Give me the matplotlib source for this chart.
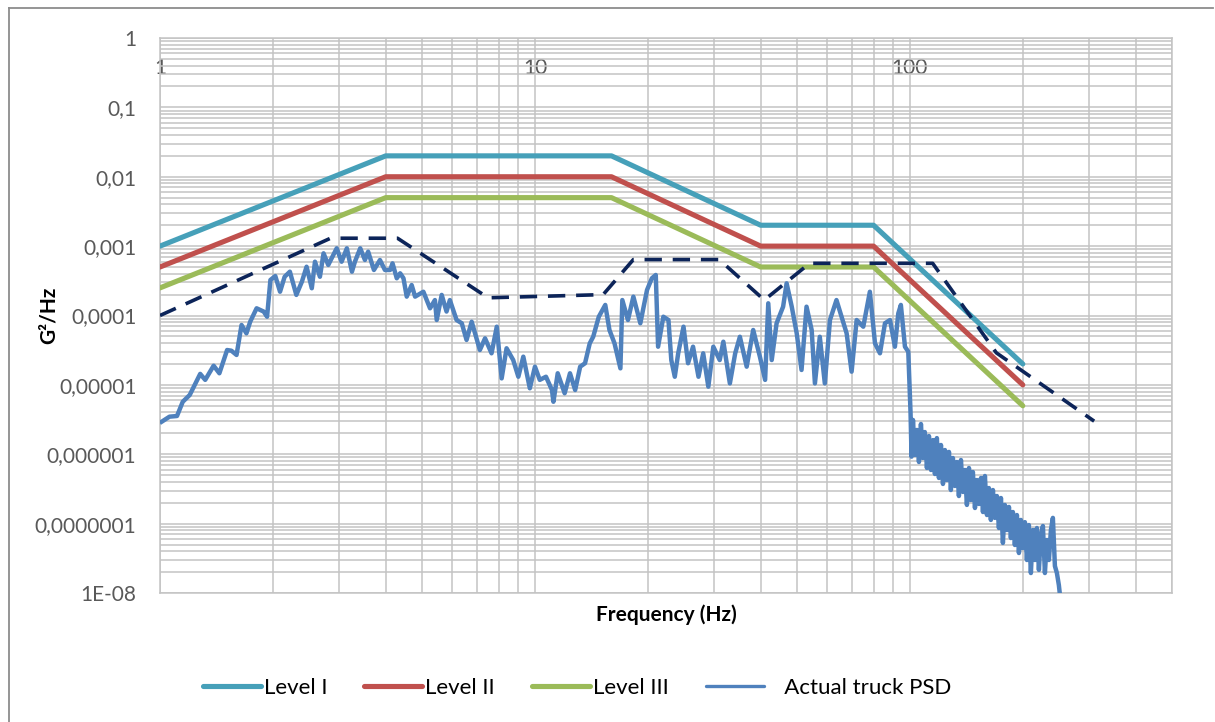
import numpy as np
import matplotlib
matplotlib.use("Agg")
import matplotlib.pyplot as plt
from matplotlib.ticker import LogLocator, NullFormatter, FixedLocator, FixedFormatter
from matplotlib.lines import Line2D

plt.rcParams['font.family'] = ['Lato', 'DejaVu Sans']

# ---------------- data ----------------
level_freq = [1, 4, 16, 40, 80, 200]
level_1 = [0.001, 0.02, 0.02, 0.002, 0.002, 0.00002]
level_2 = [0.0005, 0.01, 0.01, 0.001, 0.001, 0.00001]
level_3 = [0.00025, 0.005, 0.005, 0.0005, 0.0005, 0.000005]

dash_freq = [1, 2.85, 4.3, 7.5, 15.2, 18.3, 31, 40.9, 54, 115, 170, 310]
dash_psd = [1.0e-4, 1.3e-3, 1.3e-3, 1.8e-4, 2.0e-4, 6.4e-4, 6.4e-4, 1.67e-4,
            5.65e-4, 5.65e-4, 2.9e-5, 3.0e-6]

psd_freq_a = [1.01, 1.06, 1.11, 1.15, 1.20, 1.28, 1.32, 1.39, 1.44, 1.51, 1.55, 1.60,
              1.65, 1.70, 1.74, 1.81, 1.89, 1.93, 1.97, 2.03, 2.09, 2.15, 2.22, 2.31,
              2.39, 2.46, 2.54, 2.59, 2.67, 2.73, 2.81, 2.87, 2.96, 3.05, 3.15, 3.25,
              3.31, 3.42, 3.52, 3.59, 3.72, 3.86, 3.98, 4.11, 4.17, 4.28]
psd_val_a = [2.94e-6, 3.48e-6, 3.56e-6, 5.71e-6, 7.14e-6, 1.44e-5, 1.18e-5, 1.89e-5,
             1.47e-5, 3.18e-5, 3.11e-5, 2.70e-5, 7.30e-5, 5.53e-5, 8.14e-5, 1.27e-4,
             1.14e-4, 9.6e-5, 3.25e-4, 3.71e-4, 2.20e-4, 3.62e-4, 4.28e-4, 1.98e-4,
             3.07e-4, 5.05e-4, 2.47e-4, 5.96e-4, 3.62e-4, 7.88e-4, 5.35e-4, 6.68e-4,
             9.31e-4, 5.96e-4, 9.31e-4, 4.28e-4, 5.96e-4, 9.31e-4, 6.31e-4, 8.32e-4,
             4.53e-4, 6.31e-4, 4.53e-4, 4.53e-4, 5.65e-4, 3.44e-4]

psd_freq_b = [4.37, 4.46, 4.55, 4.69, 4.79, 5.04, 5.25, 5.41, 5.47, 5.64, 5.81, 5.93,
              6.18, 6.38, 6.57, 6.78, 7.13, 7.36, 7.66, 7.91, 8.15, 8.40, 8.75, 9.03,
              9.31, 9.69, 10.0, 10.3, 10.7, 11.1, 11.2, 11.5, 12.0, 12.4, 12.8, 13.2,
              13.6, 14.0, 14.3, 14.8, 15.4, 15.8, 16.3, 16.9, 17.1, 17.7, 18.3, 19.1,
              19.9, 20.5, 21.0, 21.3]
psd_val_b = [4.06e-4, 3.44e-4, 1.87e-4, 2.75e-4, 1.87e-4, 2.20e-4, 1.27e-4, 1.67e-4,
             8.61e-5, 1.98e-4, 1.14e-4, 1.67e-4, 8.61e-5, 7.73e-5, 4.44e-5, 8.14e-5,
             3.18e-5, 4.69e-5, 2.85e-5, 6.90e-5, 1.24e-5, 3.37e-5, 2.28e-5, 1.31e-5,
             2.55e-5, 8.93e-6, 1.83e-5, 1.18e-5, 1.31e-5, 8.43e-6, 5.71e-6, 1.47e-5,
             7.57e-6, 1.47e-5, 8.43e-6, 1.83e-5, 2.05e-5, 3.97e-5, 4.94e-5, 9.6e-5,
             1.42e-4, 6.18e-5, 3.97e-5, 1.73e-5, 1.67e-4, 8.61e-5, 1.87e-4, 7.73e-5,
             2.33e-4, 3.44e-4, 3.84e-4, 3.55e-5]

psd_freq_c = [22.0, 22.7, 23.1, 23.6, 24.1, 24.9, 25.6, 26.4, 27.3, 28.1, 29.0, 29.9,
              31.1, 31.8, 33.1, 34.2, 35.2, 36.7, 38.2, 39.8, 41.1, 41.9, 42.8, 44.1,
              45.9, 46.9, 48.4, 49.9, 51.4, 53.0, 54.7, 55.8, 57.5, 59.3, 61.2, 63.7,
              65.7, 67.8, 69.9, 72.1, 75.1, 78.2, 80.7, 83.2, 85.8, 88.5, 91.2, 93.1,
              94.6, 97.0, 99.0, 100.4, 101.0]
psd_val_c = [9.6e-5, 8.61e-5, 2.28e-5, 1.31e-5, 2.85e-5, 6.90e-5, 2.05e-5, 3.55e-5,
             1.31e-5, 2.85e-5, 9.42e-6, 3.55e-5, 2.28e-5, 4.19e-5, 1.05e-5, 2.85e-5,
             4.94e-5, 1.83e-5, 6.18e-5, 2.55e-5, 1.18e-5, 1.50e-4, 2.28e-5, 7.73e-5,
             1.34e-4, 2.91e-4, 1.34e-4, 5.53e-5, 1.64e-5, 1.34e-4, 6.18e-5, 1.05e-5,
             4.94e-5, 1.05e-5, 8.61e-5, 1.67e-4, 9.6e-5, 5.53e-5, 1.55e-5, 8.61e-5,
             6.90e-5, 2.20e-4, 3.97e-5, 2.85e-5, 7.73e-5, 8.61e-5, 3.55e-5, 1.07e-4,
             1.42e-4, 3.55e-5, 3.01e-5, 3.89e-6, 9.23e-7]

psd_freq_d = [101.9, 103.1, 104.4, 105.7, 107.0, 108.3, 109.6, 111.0, 112.4, 113.8,
              115.2, 116.6, 118.0, 119.5, 121.0, 122.5, 124.0, 125.5, 127.1, 128.6,
              130.2, 131.8, 133.4, 135.1, 136.8, 138.5, 140.2, 141.9, 143.7, 145.4,
              147.2, 149.1, 150.9, 152.8, 154.7, 156.6, 158.5, 160.5, 162.4, 164.4,
              166.5, 168.5, 170.6, 172.7, 174.9, 177.0, 179.2, 181.4, 183.7, 185.9,
              188.2, 190.5, 192.9, 195.3, 197.7, 200.1, 202.6, 205.1, 207.6, 210.2,
              212.8, 215.4, 218.1, 220.8, 223.5, 226.3, 229.1, 231.9, 234.8, 237.7,
              240.6, 243.6, 246.6, 249.6, 251.2]
psd_val_d = [3.12e-6, 9.76e-7, 2.24e-6, 7.73e-7, 2.73e-6, 8.83e-7, 2.09e-6, 6.34e-7,
             1.83e-6, 5.93e-7, 1.60e-6, 5.19e-7, 1.71e-6, 4.55e-7, 1.36e-6, 3.73e-7,
             1.15e-6, 4.25e-7, 1.08e-6, 3.05e-7, 8.83e-7, 3.49e-7, 7.73e-7, 2.50e-7,
             8.26e-7, 2.86e-7, 5.93e-7, 1.86e-7, 6.34e-7, 2.19e-7, 5.55e-7, 1.68e-7,
             4.25e-7, 1.92e-7, 4.55e-7, 1.47e-7, 4.86e-7, 1.33e-7, 3.26e-7, 1.13e-7,
             3.05e-7, 1.21e-7, 2.50e-7, 8.65e-8, 2.34e-7, 5.26e-8, 1.86e-7, 8.09e-8,
             1.74e-7, 6.20e-8, 1.47e-7, 4.92e-8, 1.33e-7, 3.77e-8, 1.13e-7, 4.45e-8,
             1.05e-7, 2.99e-8, 9.55e-8, 1.94e-8, 8.09e-8, 2.99e-8, 8.65e-8, 2.15e-8,
             6.85e-8, 9.24e-8, 1.94e-8, 5.81e-8, 2.99e-8, 8.09e-8, 1.21e-7, 2.45e-8,
             1.94e-8, 1.30e-8, 9.5e-9]

y_tick_values = [1, 0.1, 0.01, 0.001, 0.0001, 0.00001, 0.000001, 0.0000001, 1e-8]
y_tick_labels = ['1', '0,1', '0,01', '0,001', '0,0001', '0,00001', '0,000001',
                 '0,0000001', '1E-08']
x_tick_values = [1, 10, 100]
x_tick_labels = ['1', '10', '100']

series_names = ['Level I', 'Level II', 'Level III', 'Actual truck PSD']

# ---------------- styling ----------------
c_l1 = '#46A0B9'
c_l2 = '#C0504D'
c_l3 = '#9BBB59'
c_psd = '#4F81BD'
c_dash = '#0C2459'
grid_c = '#C3C3C3'
tick_c = '#595959'

psd_freq = psd_freq_a + psd_freq_b + psd_freq_c + psd_freq_d
psd_val = psd_val_a + psd_val_b + psd_val_c + psd_val_d
assert len(psd_freq) == len(psd_val)

W, H = 1215, 722
fig = plt.figure(figsize=(W / 100, H / 100), dpi=100)
ax = fig.add_axes([160 / W, 1 - 593 / H, 1012 / W, 555 / H])
ax.set_xscale('log')
ax.set_yscale('log')
ax.set_xlim(1, 500)
ax.set_ylim(1e-8, 1)

lw_level = 3.7
ax.plot(level_freq, level_1, color=c_l1, lw=lw_level, solid_capstyle='round',
        solid_joinstyle='round', zorder=3)
ax.plot(level_freq, level_2, color=c_l2, lw=lw_level, solid_capstyle='round',
        solid_joinstyle='round', zorder=3)
ax.plot(level_freq, level_3, color=c_l3, lw=lw_level, solid_capstyle='round',
        solid_joinstyle='round', zorder=3)
ax.plot(psd_freq, psd_val, color=c_psd, lw=3.2, solid_joinstyle='round', zorder=4)
ax.plot(dash_freq, dash_psd, color=c_dash, lw=2.6, linestyle=(0, (4.8, 3.0)),
        zorder=5)

# grid
ax.xaxis.set_major_locator(FixedLocator(x_tick_values))
ax.xaxis.set_major_formatter(FixedFormatter(x_tick_labels))
ax.xaxis.set_minor_locator(LogLocator(base=10, subs=np.arange(2, 10), numticks=100))
ax.xaxis.set_minor_formatter(NullFormatter())
ax.yaxis.set_major_locator(FixedLocator(y_tick_values))
ax.yaxis.set_major_formatter(FixedFormatter(y_tick_labels))
ax.yaxis.set_minor_locator(LogLocator(base=10, subs=np.arange(2, 10), numticks=100))
ax.yaxis.set_minor_formatter(NullFormatter())
ax.grid(True, which='both', color=grid_c, lw=1.1, zorder=0)
ax.set_axisbelow(True)
for s in ax.spines.values():
    s.set_color(grid_c)
    s.set_linewidth(1.1)

ax.xaxis.tick_top()
ax.tick_params(axis='x', which='both', length=0, pad=-29, labelsize=15,
               labelcolor=tick_c)
ax.tick_params(axis='y', which='both', length=0, pad=17, labelsize=15,
               labelcolor=tick_c)

ax.set_ylabel('G²/Hz', fontsize=15, fontweight='bold', color='black')
ax.yaxis.set_label_coords((59 - 160) / 1012, 0.5)
fig.text(666 / W, 1 - 615 / H, 'Frequency (Hz)', ha='center', va='center',
         fontsize=15, fontweight='bold', color='black')

# legend
handles = [Line2D([], [], color=c_l1, lw=3.7, solid_capstyle='round'),
           Line2D([], [], color=c_l2, lw=3.7, solid_capstyle='round'),
           Line2D([], [], color=c_l3, lw=3.7, solid_capstyle='round'),
           Line2D([], [], color=c_psd, lw=2.4, solid_capstyle='round')]
labels = [series_names[0], series_names[1], series_names[2], '   ' + series_names[3]]
fs_leg = 16
px_per_em = fs_leg * 100 / 72
fig.legend(handles, labels, loc='center', bbox_to_anchor=(577 / W, 1 - 688 / H),
           ncol=4, frameon=False, fontsize=fs_leg,
           handlelength=58 / px_per_em, handletextpad=3 / px_per_em,
           columnspacing=37 / px_per_em)

# outer chart border
fig.add_artist(Line2D([9 / W, 1213 / W], [1 - 8 / H, 1 - 8 / H], color='#8C8C8C',
                      lw=1.3, transform=fig.transFigure))
fig.add_artist(Line2D([9 / W, 9 / W], [1 - 8 / H, 0], color='#8C8C8C',
                      lw=1.3, transform=fig.transFigure))

fig.savefig('out.png', dpi=100, facecolor='white')
